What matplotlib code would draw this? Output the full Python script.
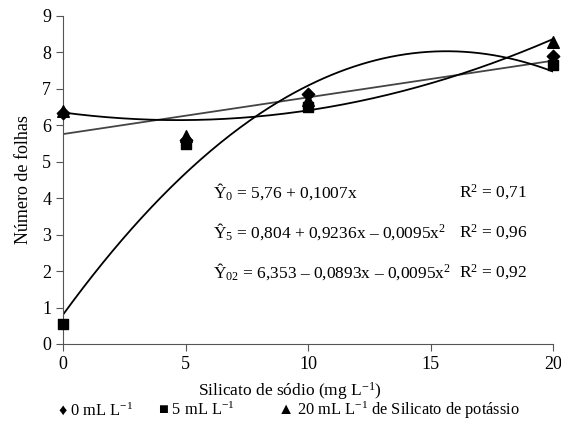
import numpy as np
import matplotlib.pyplot as plt

plt.rcParams['font.family'] = ['Liberation Serif', 'DejaVu Sans']
plt.rcParams['mathtext.fontset'] = 'custom'
plt.rcParams['mathtext.rm'] = 'Liberation Serif'
plt.rcParams['mathtext.it'] = 'Liberation Serif'

# data
doses = [0, 5, 10, 20]
folhas_0 = [6.35, 5.6, 6.85, 7.9]     # 0 mL L-1
folhas_5 = [0.55, 5.5, 6.5, 7.65]     # 5 mL L-1
folhas_20 = [6.4, 5.7, 6.7, 8.3]      # 20 mL L-1

# regression coefficients (c0, c1, c2) as drawn
coef_0 = [5.76, 0.1007, 0.0]
coef_5 = [0.804, 0.9236, -0.0295]
coef_20 = [6.353, -0.0893, 0.0095]

eq_labels = ['Ŷ$_0$ = 5,76 + 0,1007x',
             'Ŷ$_5$ = 0,804 + 0,9236x – 0,0095x$^2$',
             'Ŷ$_{02}$ = 6,353 – 0,0893x – 0,0095x$^2$']
r2_labels = ['0,71', '0,96', '0,92']
leg_labels = ['0 mL L$^{-1}$', '5 mL L$^{-1}$',
              '20 mL L$^{-1}$ de Silicato de potássio']

W, H = 561, 424
fig = plt.figure(figsize=(W / 100, H / 100), dpi=100)
ax = fig.add_axes([63 / W, 1 - 344 / H, 490 / W, 328 / H])

xx = np.linspace(0, 20, 200)
for coef, col in [(coef_0, '#444444'), (coef_5, 'black'), (coef_20, 'black')]:
    yy = coef[0] + coef[1] * xx + coef[2] * xx ** 2
    ax.plot(xx, yy, color=col, lw=1.3)

ax.scatter(doses, folhas_20, marker='^', s=70, color='black', clip_on=False, zorder=3)
ax.scatter(doses, folhas_5, marker='s', s=55, color='black', clip_on=False, zorder=3)
ax.scatter(doses, folhas_0, marker='D', s=40, color='black', clip_on=False, zorder=3)

ax.set_xlim(0, 20)
ax.set_ylim(0, 9)
ax.set_xticks([0, 5, 10, 15, 20])
ax.set_yticks(range(0, 10))
ax.spines['top'].set_visible(False)
ax.spines['right'].set_visible(False)
for s in ['left', 'bottom']:
    ax.spines[s].set_color('#555555')
ax.tick_params(labelsize=13, color='#555555', length=5)
ax.set_ylabel('Número de folhas', fontsize=13, labelpad=7)

fs = 12.5
fig.text(290 / W, 1 - 391 / H, 'Silicato de sódio (mg L$^{-1}$)', fontsize=12.5,
         ha='center', va='center')

for i, (eq, r2) in enumerate(zip(eq_labels, r2_labels)):
    y = 1 - (192 + 40 * i) / H
    fig.text(213 / W, y, eq, fontsize=fs, va='center')
    fig.text(459 / W, y, 'R$^2$ = ' + r2, fontsize=fs, va='center')

# legend below the axis
for xpix, sym, lab in zip([58, 158, 277], ['♦', '■', '▲'], leg_labels):
    fig.text(xpix / W, 1 - 410 / H, sym + ' ' + lab, fontsize=11.8, va='center')

fig.savefig('out.png', dpi=100)
